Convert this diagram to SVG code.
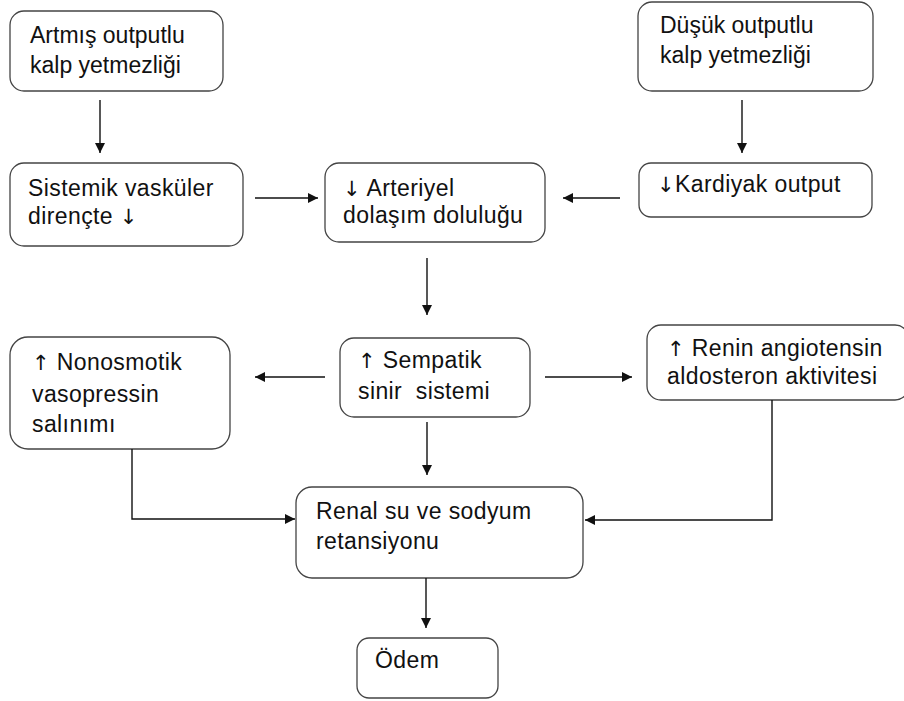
<svg xmlns="http://www.w3.org/2000/svg" width="904" height="701" viewBox="0 0 904 701">
<style>
.box{fill:#fff;stroke:#444;stroke-width:1.3}
text{font-family:"Liberation Sans",Arial,sans-serif;font-size:23px;letter-spacing:0.4px;fill:#111;white-space:pre}
.big{letter-spacing:0}
.ar{font-family:"DejaVu Sans",sans-serif;font-size:21px;fill:#111}
.c{fill:none;stroke:#111;stroke-width:1.4}
</style>
<defs>
<marker id="ah" viewBox="0 0 10 10" refX="10" refY="5" markerWidth="10" markerHeight="10" markerUnits="userSpaceOnUse" orient="auto">
<path d="M0,0 L10,5 L0,10 z" fill="#111"/>
</marker>
</defs>
<rect width="904" height="701" fill="#fff"/>
<g id="n-artmis"><rect class="box" x="10" y="11" width="213" height="80" rx="14"/><text class="big" x="30" y="43">Artmış outputlu</text><text class="big" x="30" y="73">kalp yetmezliği</text></g>
<g id="n-dusuk"><rect class="box" x="638" y="2" width="235" height="89" rx="14"/><text class="big" x="660" y="33">Düşük outputlu</text><text class="big" x="660" y="63">kalp yetmezliği</text></g>
<g id="n-sistemik"><rect class="box" x="10" y="163" width="233" height="83" rx="14"/><text x="28" y="196">Sistemik vasküler</text><text x="28" y="224">dirençte <tspan class="ar">↓</tspan></text></g>
<g id="n-arteriyel"><rect class="box" x="325" y="163" width="220" height="79" rx="14"/><text x="343" y="196"><tspan class="ar">↓</tspan> Arteriyel</text><text x="343" y="223">dolaşım doluluğu</text></g>
<g id="n-kardiyak"><rect class="box" x="639" y="163" width="233" height="54" rx="12"/><text x="657" y="192"><tspan class="ar">↓</tspan>Kardiyak output</text></g>
<g id="n-nonosmotik"><rect class="box" x="10" y="337" width="220" height="112" rx="18"/><text x="32" y="370"><tspan class="ar">↑</tspan> Nonosmotik</text><text x="32" y="402">vasopressin</text><text x="32" y="432">salınımı</text></g>
<g id="n-sempatik"><rect class="box" x="340" y="338" width="190" height="79" rx="14"/><text x="358" y="368"><tspan class="ar">↑</tspan> Sempatik</text><text x="358" y="399">sinir  sistemi</text></g>
<g id="n-renin"><rect class="box" x="647" y="325" width="262" height="75" rx="14"/><text x="667" y="356"><tspan class="ar">↑</tspan> Renin angiotensin</text><text x="667" y="384">aldosteron aktivitesi</text></g>
<g id="n-renal"><rect class="box" x="296" y="487" width="287" height="91" rx="16"/><text x="316" y="519">Renal su ve sodyum</text><text x="316" y="549">retansiyonu</text></g>
<g id="n-odem"><rect class="box" x="357" y="638" width="141" height="60" rx="12"/><text x="375" y="668">Ödem</text></g>
<g id="connectors">
<path class="c" d="M100,100 V153" marker-end="url(#ah)"/>
<path class="c" d="M742,100 V153" marker-end="url(#ah)"/>
<path class="c" d="M255,198 H318" marker-end="url(#ah)"/>
<path class="c" d="M620,198 H563" marker-end="url(#ah)"/>
<path class="c" d="M427,258 V315" marker-end="url(#ah)"/>
<path class="c" d="M325,377 H255" marker-end="url(#ah)"/>
<path class="c" d="M545,377 H632" marker-end="url(#ah)"/>
<path class="c" d="M427,422 V475" marker-end="url(#ah)"/>
<path class="c" d="M132,449 V519 H295" marker-end="url(#ah)"/>
<path class="c" d="M772,400 V520 H585" marker-end="url(#ah)"/>
<path class="c" d="M426,578 V628" marker-end="url(#ah)"/>
</g>
</svg>
